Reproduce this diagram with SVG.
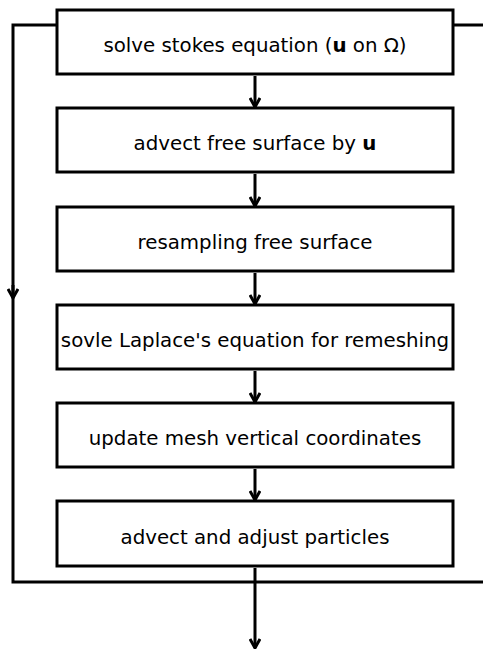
<svg xmlns="http://www.w3.org/2000/svg" width="483" height="649" viewBox="0 0 483 649">
<style>
.box{fill:#fff;stroke:#000;stroke-width:3}
.t{font-family:"DejaVu Sans",sans-serif;font-size:19.8px;text-anchor:middle;fill:#000}
.c{fill:none;stroke:#000;stroke-width:3}
</style>
<defs>
<marker id="ah" markerWidth="12" markerHeight="12" viewBox="0 0 12 12" refX="10" refY="6" orient="auto" markerUnits="userSpaceOnUse">
<path d="M1,1 L10,6 L1,11" fill="none" stroke="#000" stroke-width="3"/>
</marker>
</defs>
<g id="connectors">
<path class="c" d="M57,25 H13 V582 H483"/>
<path class="c" d="M453,25 H483"/>
<path class="c" d="M13,285 V298" marker-end="url(#ah)"/>
<path class="c" d="M255,76 V107" marker-end="url(#ah)"/>
<path class="c" d="M255,174 V206" marker-end="url(#ah)"/>
<path class="c" d="M255,273 V304" marker-end="url(#ah)"/>
<path class="c" d="M255,371 V402" marker-end="url(#ah)"/>
<path class="c" d="M255,469 V500" marker-end="url(#ah)"/>
<path class="c" d="M255,568 V648" marker-end="url(#ah)"/>
</g>
<g id="n1"><rect class="box" x="57" y="10" width="396" height="64"/><text class="t" x="255" y="52">solve stokes equation (<tspan font-weight="bold">u</tspan> on Ω)</text></g>
<g id="n2"><rect class="box" x="57" y="108" width="396" height="64"/><text class="t" x="255" y="150">advect free surface by <tspan font-weight="bold">u</tspan></text></g>
<g id="n3"><rect class="box" x="57" y="207" width="396" height="64"/><text class="t" x="255" y="249">resampling free surface</text></g>
<g id="n4"><rect class="box" x="57" y="305" width="396" height="64"/><text class="t" x="255" y="347">sovle Laplace's equation for remeshing</text></g>
<g id="n5"><rect class="box" x="57" y="403" width="396" height="64"/><text class="t" x="255" y="445">update mesh vertical coordinates</text></g>
<g id="n6"><rect class="box" x="57" y="501" width="396" height="65"/><text class="t" x="255" y="544">advect and adjust particles</text></g>
</svg>
